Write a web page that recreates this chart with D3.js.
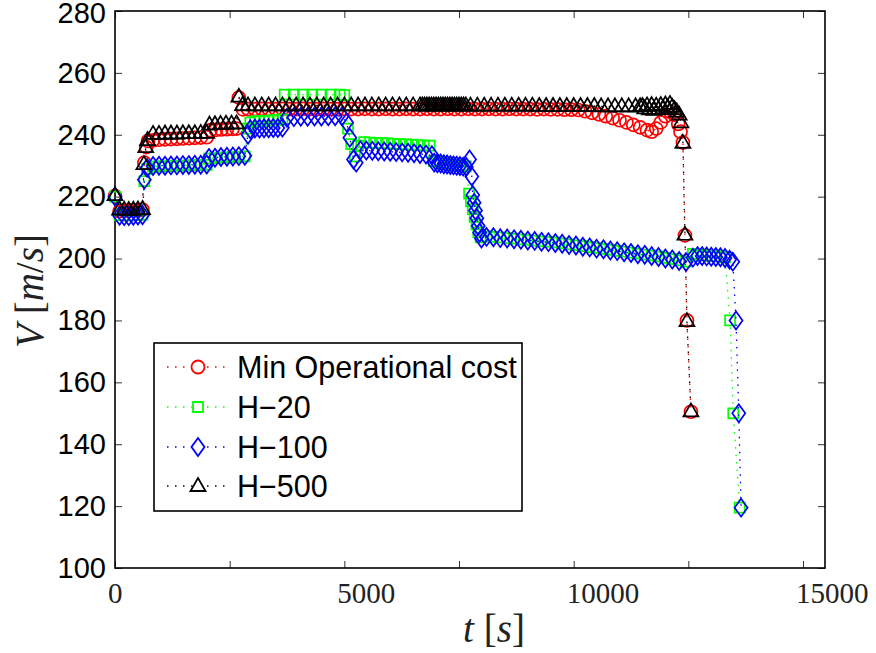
<!DOCTYPE html>
<html>
<head>
<meta charset="utf-8">
<script src="https://d3js.org/d3.v7.min.js"></script>
<style>
  html, body { margin: 0; padding: 0; background: #fff; }
  svg { display: block; }
  .ytick text { font-family: "Liberation Sans", Arial, sans-serif; font-size: 29px; fill: #000; }
  .xlab { font-family: "Liberation Serif", "Times New Roman", serif; font-size: 29px; fill: #222; }
  .axlabel { font-family: "Liberation Serif", "Times New Roman", serif; font-size: 39px; fill: #222; }
  .legtext { font-family: "Liberation Sans", Arial, sans-serif; font-size: 30.5px; fill: #000; }
</style>
</head>
<body>
<script>
// tick values
var xTicks = [0, 2500, 5000, 7500, 10000, 12500, 15000];
var xLabels = [0, 5000, 10000, 15000];
var yTicks = [100, 120, 140, 160, 180, 200, 220, 240, 260, 280];

// series names
var names = ["Min Operational cost", "H\u221220", "H\u2212100", "H\u2212500"];

// Min Operational cost  [t, V]
var minCost = [
  [0,220.2],[100,215.3],[200,215.5],[300,215.4],[400,215.6],[500,215.5],[600,215.8],
  [640,231],[680,236],[720,238],
  [830,238.2],[960,238.4],[1090,238.5],[1220,238.6],[1350,238.7],[1480,238.8],[1610,238.9],[1740,239],[1870,239.1],[2000,239.2],
  [2080,241.5],[2200,241.6],[2320,241.7],[2440,241.8],[2560,241.9],[2650,242],
  [2700,252],[2790,248.2],
  [2900,248.3],[3050,248.3],[3200,248.4],[3350,248.3],[3500,248.3],[3650,248.4],[3800,248.3],[3950,248.3],
  [4100,248.4],[4250,248.3],[4400,248.3],[4550,248.4],[4700,248.3],[4850,248.3],[5000,248.4],[5150,248.3],
  [5300,248.3],[5450,248.4],[5600,248.3],[5750,248.3],[5900,248.4],[6050,248.3],[6200,248.3],[6350,248.4],
  [6500,248.3],[6650,248.3],[6800,248.4],[6950,248.3],[7100,248.3],[7250,248.4],[7400,248.3],[7550,248.3],
  [7700,248.4],[7850,248.3],[8000,248.3],[8150,248.4],[8300,248.3],[8450,248.3],[8600,248.4],[8750,248.3],
  [8900,248.3],[9050,248.3],[9200,248.2],[9350,248.3],[9500,248.2],[9650,248.2],[9800,248.1],[9950,248.1],
  [10100,248],[10250,247.6],[10400,247.1],[10550,246.6],[10700,246],[10850,245.4],[11000,244.7],[11150,244],
  [11300,243.2],[11450,242.4],[11600,241.5],[11700,241],[11800,242],[11900,244],[12000,246],[12100,247.5],
  [12200,246.5],[12280,243.5],[12330,241],
  [12382,237.5],[12426,207.5],[12470,180],[12557,150.5]
];

// H-20
var h20 = [
  [0,220],[100,214],[200,214],[300,213.9],[400,214],[500,214.1],[600,214.2],
  [640,225],[700,229],
  [830,229.7],[960,229.8],[1090,229.8],[1220,229.9],[1350,230],[1480,230],[1610,230.1],[1740,230.2],[1870,230.3],[2000,230.3],
  [2050,232.3],[2180,232.5],[2310,232.6],[2440,232.7],[2570,232.8],[2700,232.9],[2830,233],
  [2900,242],[2950,244],[3050,244.3],[3150,244.4],[3250,244.5],[3350,244.6],[3450,244.7],[3550,244.8],[3650,245],
  [3700,253],[3900,253],[4100,253],[4300,253],[4500,253],[4700,253],[4900,253],[5000,252.8],
  [5080,242],[5150,237],[5230,233],[5300,236.5],
  [5430,237.6],[5560,237.5],[5690,237.4],[5820,237.3],[5950,237.2],[6080,237.1],[6210,237],[6340,236.9],
  [6470,236.8],[6600,236.7],[6730,236.6],[6860,236.5],
  [6950,231.5],[7020,231.3],[7090,231.1],[7160,230.9],[7230,230.7],[7300,230.5],[7370,230.3],[7440,230.2],
  [7510,230],[7580,229.9],[7650,229.8],
  [7720,221],[7760,218.5],[7800,216],[7840,213.5],[7880,211],[7920,208.5],[7970,206.8],
  [8100,207.2],[8250,207],[8400,206.8],[8550,206.6],[8700,206.4],[8850,206.2],[9000,206],[9150,205.8],
  [9300,205.6],[9450,205.4],[9600,205.2],[9750,204.9],[9900,204.6],[10050,204.3],[10200,204],[10350,203.7],
  [10500,203.4],[10650,203.1],[10800,202.8],[10950,202.5],[11100,202.2],[11250,201.9],[11400,201.6],[11550,201.3],
  [11700,201],[11850,200.6],[12000,200.2],[12150,199.8],[12300,199.4],[12450,199],
  [12600,201.5],[12700,201.2],[12800,201.1],[12900,201],[13000,200.9],[13100,200.8],[13200,200.7],[13300,200.4],
  [13410,180],[13480,150],[13620,119.5]
];

// H-100
var h100 = [
  [0,220],[100,213.8],[200,213.7],[300,213.7],[400,213.8],[500,213.9],[600,214],
  [640,225.5],[700,229.3],
  [830,229.9],[960,230],[1090,230],[1220,230.1],[1350,230.1],[1480,230.2],[1610,230.2],[1740,230.3],[1870,230.3],[2000,230.4],
  [2050,232.5],[2180,232.6],[2310,232.8],[2440,232.9],[2570,233],[2700,233.1],[2830,233.2],
  [2900,240],[2950,241.8],[3050,242],[3150,242],[3250,242.1],[3350,242.1],[3450,242.2],[3550,242.2],[3650,242.3],
  [3750,245.5],[3900,245.7],[4050,245.8],[4200,245.8],[4350,245.9],[4500,245.9],[4650,246],[4800,246],[4950,246],
  [5050,244],[5120,239],[5200,232],[5260,231],
  [5350,235],[5480,234.9],[5610,234.8],[5740,234.7],[5870,234.6],[6000,234.5],[6130,234.4],[6260,234.3],
  [6390,234.2],[6520,234],[6650,233.8],[6780,233.6],[6910,233.4],
  [6960,231],[7030,230.8],[7100,230.7],[7170,230.5],[7240,230.4],[7310,230.2],[7380,230.1],[7450,230],
  [7520,229.9],[7590,229.7],[7660,229.6],
  [7730,232],[7780,226.5],[7800,220.5],[7830,218],[7860,215.5],[7890,213],[7920,210.5],[7950,208.3],[7990,206.5],
  [8100,207],[8250,206.9],[8400,206.6],[8550,206.5],[8700,206.2],[8850,206.1],[9000,205.8],[9150,205.7],
  [9300,205.4],[9450,205.3],[9600,205],[9750,204.8],[9900,204.4],[10050,204.2],[10200,203.8],[10350,203.6],
  [10500,203.2],[10650,203],[10800,202.6],[10950,202.4],[11100,202],[11250,201.8],[11400,201.4],[11550,201.2],
  [11700,200.8],[11850,200.5],[12000,200],[12150,199.7],[12300,199.2],[12450,198.9],
  [12600,200.3],[12700,200.8],[12800,200.8],[12900,200.7],[13000,200.6],[13100,200.5],[13200,200.4],[13300,200.2],
  [13400,199.6],[13470,199],
  [13540,180],[13600,150],[13650,119.5]
];

// H-500
var h500 = [
  [0,220.5],[100,215.8],[200,215.8],[300,215.7],[400,215.8],[500,215.9],[600,216],
  [630,230.5],[670,236],[710,238.3],
  [830,240.3],[960,240.3],[1090,240.4],[1220,240.4],[1350,240.4],[1480,240.5],[1610,240.5],[1740,240.5],[1870,240.6],[2000,240.6],
  [2060,243.3],[2180,243.4],[2300,243.5],[2420,243.6],[2540,243.6],[2650,243.7],
  [2700,252.3],[2780,249.6],
  [2900,249.5],[3050,249.5],[3200,249.5],[3350,249.5],[3500,249.5],[3650,249.5],[3800,249.5],[3950,249.5],
  [4100,249.5],[4250,249.5],[4400,249.5],[4550,249.5],[4700,249.5],[4850,249.5],[5000,249.5],[5150,249.5],
  [5300,249.5],[5450,249.5],[5600,249.5],[5750,249.5],[5900,249.5],[6050,249.5],[6200,249.5],[6350,249.5],
  [6500,249.5],[6650,249.5],
  [6700,249.5],[6750,249.5],[6800,249.5],[6850,249.5],[6900,249.5],[6950,249.5],[7000,249.5],[7050,249.5],
  [7100,249.5],[7150,249.5],[7200,249.5],[7250,249.5],[7300,249.5],[7350,249.5],[7400,249.5],[7450,249.5],
  [7500,249.5],[7550,249.5],[7600,249.5],[7650,249.5],
  [7750,249.4],[7900,249.4],[8050,249.4],[8200,249.4],[8350,249.4],[8500,249.4],[8650,249.4],[8800,249.4],
  [8950,249.4],[9100,249.4],[9250,249.3],[9400,249.3],[9550,249.3],[9700,249.3],[9850,249.3],[10000,249.3],
  [10150,249.3],[10300,249.3],[10450,249.3],[10600,249.2],[10750,249.2],[10900,249.2],[11050,249.2],[11200,249.2],
  [11350,249.2],[11450,249.2],
  [11500,249.3],[11550,248.5],[11600,249.5],[11650,248.2],[11700,249.6],[11750,248],[11800,249.4],[11850,248.3],
  [11900,249.6],[11950,248.6],[12000,249.8],[12050,248.8],[12100,250],[12150,249],[12200,248.3],[12250,247.5],
  [12300,246.5],[12340,244],
  [12382,237.4],[12426,207.7],[12470,179.8],[12557,150.6]
];

var series = [
  { name: names[0], data: minCost, color: "#ff0000", marker: "circle" },
  { name: names[1], data: h20, color: "#00ff00", marker: "square" },
  { name: names[2], data: h100, color: "#0000ff", marker: "diamond" },
  { name: names[3], data: h500, color: "#000000", marker: "triangle" }
];

var W = 876, H = 653;
var svg = d3.select("body").append("svg").attr("width", W).attr("height", H);

var x = d3.scaleLinear().domain([0, 15480]).range([115, 825]);
var y = d3.scaleLinear().domain([100, 280]).range([568, 11]);

function markerPath(type) {
  if (type == "circle") return "M6.5,0A6.5,6.5 0 1,1 -6.5,0A6.5,6.5 0 1,1 6.5,0Z";
  if (type == "square") return "M-5,-5L5,-5L5,5L-5,5Z";
  if (type == "diamond") return "M0,-9L6.5,0L0,9L-6.5,0Z";
  return "M0,-8L7.5,5L-7.5,5Z";
}

// axes
var gx = svg.append("g").attr("transform", "translate(0,568)")
  .call(d3.axisBottom(x).tickValues(xTicks).tickSize(-7).tickFormat(""));
var gxt = svg.append("g").attr("transform", "translate(0,11)")
  .call(d3.axisTop(x).tickValues(xTicks).tickSize(-7).tickFormat(""));
var gy = svg.append("g").attr("class", "ytick").attr("transform", "translate(115,0)")
  .call(d3.axisLeft(y).tickValues(yTicks).tickSizeInner(-7).tickSizeOuter(0).tickPadding(9));
var gyr = svg.append("g").attr("transform", "translate(825,0)")
  .call(d3.axisRight(y).tickValues(yTicks).tickSize(-7).tickFormat(""));
[gx, gxt, gy, gyr].forEach(function(g) {
  g.select(".domain").remove();
  g.selectAll(".tick line").attr("stroke", "#333").attr("stroke-width", 1);
});
gy.selectAll("text").attr("fill", "#000");
// keep the top label inside the picture
gy.selectAll(".tick").filter(function(d) { return d == 280; }).select("text").attr("dy", "0.37em").attr("y", 1);

svg.append("rect")
  .attr("x", 115).attr("y", 11).attr("width", 710).attr("height", 557)
  .attr("fill", "none").attr("stroke", "#000").attr("stroke-width", 1.6);

svg.selectAll(".xlab").data(xLabels).enter().append("text")
  .attr("class", "xlab")
  .attr("x", function(d) { return x(d) - 7; })
  .attr("y", 603)
  .text(function(d) { return d; });

// axis titles
var yl = svg.append("text").attr("class", "axlabel")
  .attr("text-anchor", "middle")
  .attr("transform", "translate(43,291) rotate(-90)");
yl.append("tspan").attr("font-style", "italic").text("V");
yl.append("tspan").text(" [");
yl.append("tspan").attr("font-style", "italic").text("m");
yl.append("tspan").text("/");
yl.append("tspan").attr("font-style", "italic").text("s");
yl.append("tspan").text("]");

var xl = svg.append("text").attr("class", "axlabel")
  .attr("text-anchor", "middle")
  .attr("x", 494).attr("y", 642);
xl.append("tspan").attr("font-style", "italic").text("t");
xl.append("tspan").text(" [");
xl.append("tspan").attr("font-style", "italic").text("s");
xl.append("tspan").text("]");

// series
var line = d3.line()
  .x(function(d) { return x(d[0]); })
  .y(function(d) { return y(d[1]); });

series.forEach(function(s) {
  var g = svg.append("g");
  g.append("path")
    .attr("d", line(s.data))
    .attr("fill", "none")
    .attr("stroke", s.color)
    .attr("stroke-width", 1.3)
    .attr("stroke-dasharray", "1.5,6");
  g.selectAll("path.mk").data(s.data).enter().append("path")
    .attr("class", "mk")
    .attr("d", markerPath(s.marker))
    .attr("transform", function(d) { return "translate(" + x(d[0]) + "," + y(d[1]) + ")"; })
    .attr("fill", "none")
    .attr("stroke", s.color)
    .attr("stroke-width", 1.7);
});

// legend
var leg = svg.append("g");
leg.append("rect")
  .attr("x", 154).attr("y", 343).attr("width", 368).attr("height", 168)
  .attr("fill", "#fff").attr("stroke", "#000").attr("stroke-width", 1.6);
var legY = [367, 407, 447, 486];
series.forEach(function(s, i) {
  leg.append("line")
    .attr("x1", 167).attr("x2", 227).attr("y1", legY[i]).attr("y2", legY[i])
    .attr("stroke", s.color).attr("stroke-width", 1.3).attr("stroke-dasharray", "1.5,6.5");
  leg.append("path")
    .attr("d", markerPath(s.marker))
    .attr("transform", "translate(198," + legY[i] + ")")
    .attr("fill", "#fff")
    .attr("stroke", s.color)
    .attr("stroke-width", 1.8);
  leg.append("text").attr("class", "legtext")
    .attr("x", 237).attr("y", legY[i]).attr("dy", "0.36em")
    .text(s.name);
});
</script>
</body>
</html>
